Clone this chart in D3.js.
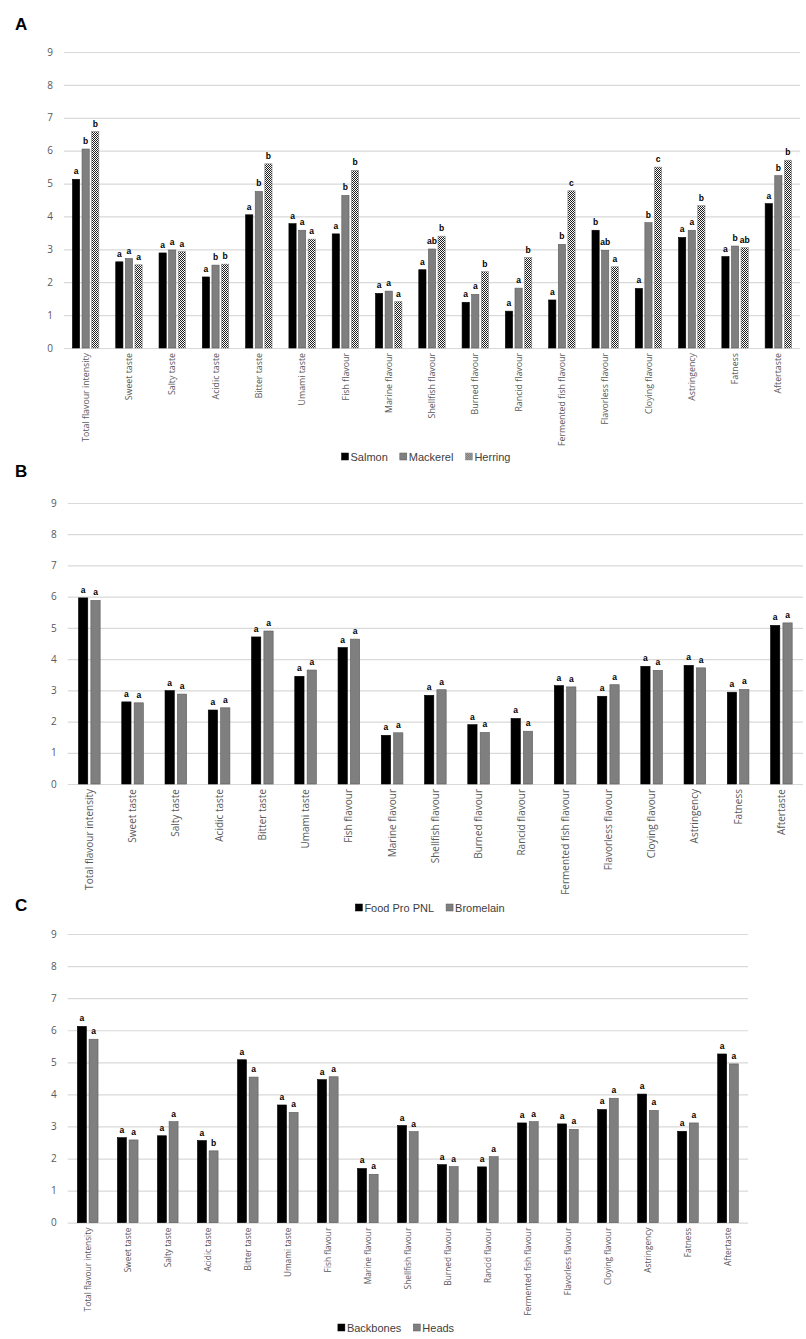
<!DOCTYPE html>
<head>
<meta charset="utf-8">
<style>
  body { margin: 0; background: #fff; }
  svg { display: block; }
</style>
</head>
<body>
  <svg width="806" height="1339"></svg>

  <script src="https://d3js.org/d3.v7.min.js"></script>
  <script>
  // sensory attributes, same order in all three panels
  const categories = [
    'Total flavour intensity', 'Sweet taste', 'Salty taste', 'Acidic taste',
    'Bitter taste', 'Umami taste', 'Fish flavour', 'Marine flavour',
    'Shellfish flavour', 'Burned flavour', 'Rancid flavour',
    'Fermented fish flavour', 'Flavorless flavour', 'Cloying flavour',
    'Astringency', 'Fatness', 'Aftertaste'
  ];
  const tickValues = [0, 1, 2, 3, 4, 5, 6, 7, 8, 9];

  // A - raw material
  const salmon   = [5.13, 2.62, 2.89, 2.16, 4.05, 3.78, 3.47, 1.66, 2.38, 1.39, 1.12, 1.46, 3.58, 1.81, 3.36, 2.78, 4.39];
  const mackerel = [6.05, 2.72, 2.98, 2.52, 4.76, 3.58, 4.64, 1.73, 3.01, 1.63, 1.82, 3.15, 2.97, 3.81, 3.58, 3.10, 5.24];
  const herring  = [6.58, 2.53, 2.93, 2.55, 5.60, 3.31, 5.40, 1.41, 3.40, 2.32, 2.75, 4.78, 2.47, 5.50, 4.33, 3.05, 5.71];
  const salmonLetters   = ['a','a','a','a','a','a','a','a','a','a','a','a','b','a','a','a','a'];
  const mackerelLetters = ['b','a','a','b','b','a','b','a','ab','a','a','b','ab','b','a','b','b'];
  const herringLetters  = ['b','a','a','b','b','a','b','a','b','b','b','c','a','c','b','ab','b'];

  // B - enzyme
  const foodPro   = [5.96, 2.63, 2.99, 2.37, 4.71, 3.45, 4.37, 1.56, 2.84, 1.90, 2.10, 3.15, 2.81, 3.77, 3.80, 2.94, 5.08];
  const bromelain = [5.88, 2.60, 2.88, 2.44, 4.90, 3.65, 4.64, 1.64, 3.02, 1.65, 1.69, 3.11, 3.18, 3.64, 3.72, 3.03, 5.16];
  const foodProLetters   = ['a','a','a','a','a','a','a','a','a','a','a','a','a','a','a','a','a'];
  const bromelainLetters = ['a','a','a','a','a','a','a','a','a','a','a','a','a','a','a','a','a'];

  // C - raw material fraction
  const backbones = [6.12, 2.65, 2.71, 2.56, 5.08, 3.67, 4.46, 1.69, 3.03, 1.81, 1.74, 3.11, 3.08, 3.53, 4.01, 2.85, 5.26];
  const heads     = [5.72, 2.58, 3.15, 2.24, 4.54, 3.44, 4.55, 1.51, 2.84, 1.75, 2.06, 3.15, 2.91, 3.88, 3.50, 3.11, 4.95];
  const backbonesLetters = ['a','a','a','a','a','a','a','a','a','a','a','a','a','a','a','a','a'];
  const headsLetters     = ['a','a','a','b','a','a','a','a','a','a','a','a','a','a','a','a','a'];

  const svg = d3.select('svg');

  // fine checker fill used for herring
  const pat = svg.append('defs').append('pattern')
    .attr('id', 'checker')
    .attr('patternUnits', 'userSpaceOnUse')
    .attr('width', 2).attr('height', 2);
  pat.append('rect').attr('width', 2).attr('height', 2).attr('fill', '#fff');
  pat.append('rect').attr('width', 1).attr('height', 1).attr('fill', '#1e1e1e');
  pat.append('rect').attr('x', 1).attr('y', 1).attr('width', 1).attr('height', 1).attr('fill', '#1e1e1e');

  const drawPanel = (cfg) => {
    const g = svg.append('g');

    g.append('text')
      .attr('x', 15).attr('y', cfg.labelY)
      .attr('font-family', 'Liberation Sans, Arial, sans-serif')
      .attr('font-weight', 'bold').attr('font-size', 17)
      .text(cfg.label);

    const y = d3.scaleLinear().domain([0, 9]).range([cfg.yBottom, cfg.yTop]);
    const x = d3.scaleBand()
      .domain(categories)
      .range([cfg.x0, cfg.x1])
      .paddingInner(cfg.pad)
      .paddingOuter(cfg.pad / 2);
    const xs = d3.scaleBand()
      .domain(cfg.series.map(s => s.name))
      .range([0, x.bandwidth()])
      .paddingInner(cfg.innerPad);

    // gridlines + y tick labels
    const yAxis = g.append('g')
      .attr('transform', `translate(${cfg.x0},0)`)
      .call(d3.axisLeft(y).tickValues(tickValues).tickSize(-(cfg.x1 - cfg.x0)).tickPadding(11));
    yAxis.select('.domain').remove();
    yAxis.selectAll('.tick line').attr('stroke', '#d9d9d9').attr('stroke-width', 1.2);
    yAxis.selectAll('.tick text')
      .attr('fill', '#595959')
      .attr('font-family', 'Open Sans, sans-serif')
      .attr('font-size', 10);

    // category labels
    const xAxis = g.append('g')
      .attr('transform', `translate(0,${cfg.yBottom})`)
      .call(d3.axisBottom(x).tickSize(0));
    xAxis.select('.domain').remove();
    xAxis.selectAll('.tick text')
      .attr('transform', 'rotate(-90)')
      .attr('x', -5).attr('y', 0).attr('dy', '0.35em')
      .attr('text-anchor', 'end')
      .attr('fill', '#595959')
      .attr('font-family', 'Open Sans, sans-serif')
      .attr('font-size', cfg.catFont);

    // bars and significance letters
    cfg.series.forEach(s => {
      const rows = categories.map((c, i) => ({ c, v: s.values[i], l: s.letters[i] }));
      g.append('g').selectAll('rect')
        .data(rows)
        .enter()
        .append('rect')
        .attr('x', d => x(d.c) + xs(s.name))
        .attr('y', d => y(d.v))
        .attr('width', xs.bandwidth())
        .attr('height', d => y(0) - y(d.v))
        .attr('fill', s.fill)
        .attr('stroke', s.stroke)
        .attr('stroke-width', 0.6);
      g.append('g').selectAll('text')
        .data(rows)
        .enter()
        .append('text')
        .attr('x', d => x(d.c) + xs(s.name) + xs.bandwidth() / 2)
        .attr('y', d => y(d.v) - 5)
        .attr('text-anchor', 'middle')
        .attr('font-family', 'Liberation Sans, Arial, sans-serif')
        .attr('font-weight', 'bold')
        .attr('font-size', 8.5)
        .attr('fill', '#000')
        .text(d => d.l);
    });

    // legend, centred on cfg.legendX
    const leg = g.append('g');
    let cx = 0;
    cfg.series.forEach((s, i) => {
      const item = leg.append('g').attr('transform', `translate(${cx},0)`);
      item.append('rect')
        .attr('x', 0).attr('y', -4)
        .attr('width', 7).attr('height', 7)
        .attr('fill', s.fill).attr('stroke', s.stroke).attr('stroke-width', 0.5);
      const t = item.append('text')
        .attr('x', 9).attr('y', 3.5)
        .attr('fill', '#404040')
        .attr('font-family', 'Liberation Sans Narrow, Arial Narrow, sans-serif')
        .attr('font-size', 11)
        .text(s.name);
      cx += 9 + t.node().getComputedTextLength() + 12;
    });
    const w = cx - 12;
    leg.attr('transform', `translate(${cfg.legendX - w / 2},${cfg.legendY})`);
  };

  drawPanel({
    label: 'A', labelY: 30,
    x0: 64, x1: 800, yTop: 52, yBottom: 348,
    pad: 0.39, innerPad: 0.25, catFont: 8.8,
    legendX: 426, legendY: 457,
    series: [
      { name: 'Salmon', values: salmon, letters: salmonLetters, fill: '#000', stroke: '#000' },
      { name: 'Mackerel', values: mackerel, letters: mackerelLetters, fill: '#7f7f7f', stroke: '#5a5a5a' },
      { name: 'Herring', values: herring, letters: herringLetters, fill: 'url(#checker)', stroke: '#8a8a8a' }
    ]
  });

  drawPanel({
    label: 'B', labelY: 477,
    x0: 67.7, x1: 803, yTop: 503, yBottom: 784,
    pad: 0.5, innerPad: 0.25, catFont: 10,
    legendX: 430, legendY: 908,
    series: [
      { name: 'Food Pro PNL', values: foodPro, letters: foodProLetters, fill: '#000', stroke: '#000' },
      { name: 'Bromelain', values: bromelain, letters: bromelainLetters, fill: '#7f7f7f', stroke: '#5a5a5a' }
    ]
  });

  drawPanel({
    label: 'C', labelY: 911,
    x0: 67.7, x1: 748, yTop: 934, yBottom: 1222.7,
    pad: 0.485, innerPad: 0.23, catFont: 8.3,
    legendX: 396, legendY: 1328,
    series: [
      { name: 'Backbones', values: backbones, letters: backbonesLetters, fill: '#000', stroke: '#000' },
      { name: 'Heads', values: heads, letters: headsLetters, fill: '#7f7f7f', stroke: '#5a5a5a' }
    ]
  });
  </script>
</body>
</html>
